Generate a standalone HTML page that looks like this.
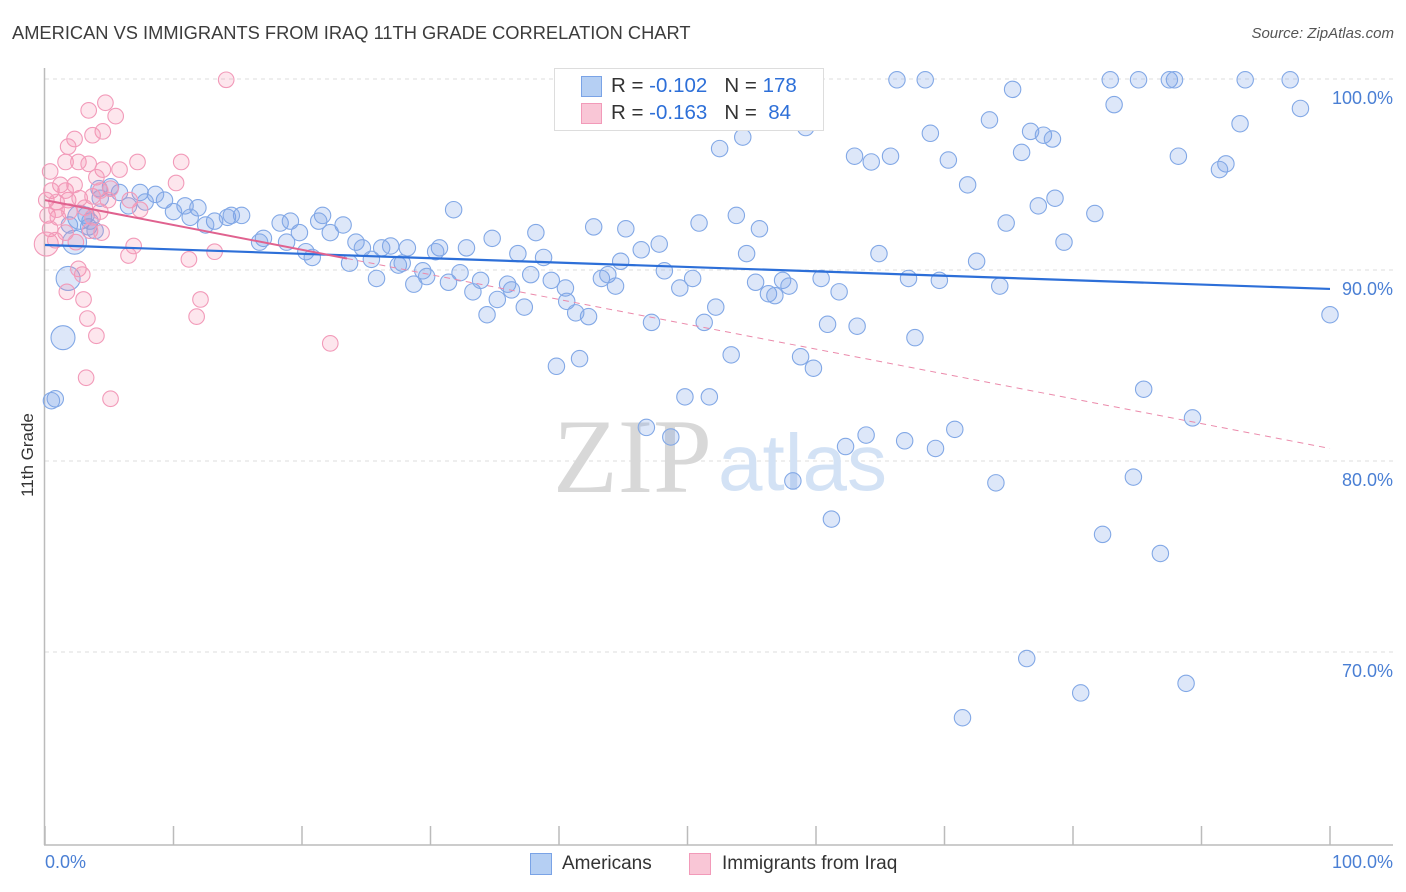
<!DOCTYPE html>
<html><head><meta charset="utf-8">
<style>
body{margin:0;background:#fff;font-family:"Liberation Sans",sans-serif;}
#wrap{position:relative;width:1406px;height:892px;overflow:hidden;}
.t{position:absolute;white-space:nowrap;}
</style></head>
<body>
<div id="wrap">
<div class="t" style="left:12px;top:22px;font-size:18.3px;color:#3c3c3c;">AMERICAN VS IMMIGRANTS FROM IRAQ 11TH GRADE CORRELATION CHART</div>
<div class="t" style="right:12px;top:25px;font-size:15px;color:#555;font-style:italic;">Source: ZipAtlas.com</div>
<svg id="svg" width="1406" height="892" style="position:absolute;left:0;top:0"></svg>
</div>
<script>
const blueX=[66.3,68.5,82.9,85.1,87.5,87.9,93.4,96.9,75.3,83.2,97.7,73.5,59.2,93.0,68.9,76.7,77.7,78.4,54.3,52.5,63.0,64.3,65.8,70.3,76.0,88.2,91.9,91.4,71.8,78.6,77.3,81.7,74.8,79.3,72.5,64.9,74.3,31.8,42.7,45.2,50.9,53.8,55.6,38.2,34.8,21.6,21.3,23.2,22.2,19.8,18.3,19.1,13.2,14.2,15.3,14.5,12.5,10.9,11.9,10.0,9.3,8.6,7.4,5.8,5.1,4.2,3.2,3.4,4.3,6.5,7.8,11.3,17.0,16.7,18.8,20.3,20.8,24.2,24.7,26.2,26.9,28.2,30.7,30.4,32.8,36.8,38.8,25.4,27.5,27.8,23.7,25.8,29.4,29.7,28.7,31.4,32.3,33.3,33.9,35.2,36.0,36.3,37.3,37.8,39.4,40.5,40.6,41.3,42.3,43.3,43.8,44.4,44.8,46.4,47.8,48.2,49.4,50.4,51.3,52.2,54.6,55.3,56.3,56.8,57.4,57.9,60.4,61.8,67.2,69.6,60.9,63.2,67.7,34.4,47.2,39.8,41.6,53.4,58.8,59.8,49.8,51.7,46.8,48.7,63.9,62.3,66.9,69.3,70.8,85.5,89.3,58.2,74.0,84.7,61.2,82.3,86.8,76.4,80.6,88.8,71.4,100.0,1.4,0.8,0.5,1.8,2.3,1.9,2.7,3.5,3.9];
const blueY=[100.9,100.9,100.9,100.9,100.9,100.9,100.9,100.9,100.4,99.6,99.4,98.8,98.4,98.6,98.1,98.2,98.0,97.8,97.9,97.3,96.9,96.6,96.9,96.7,97.1,96.9,96.5,96.2,95.4,94.7,94.3,93.9,93.4,92.4,91.4,91.8,90.1,94.1,93.2,93.1,93.4,93.8,93.1,92.9,92.6,93.8,93.5,93.3,92.9,92.9,93.4,93.5,93.5,93.7,93.8,93.8,93.3,94.3,94.2,94.0,94.6,94.9,95.0,95.0,95.3,95.2,93.8,93.2,94.7,94.3,94.5,93.7,92.6,92.4,92.4,91.9,91.6,92.4,92.1,92.1,92.2,92.1,92.1,91.9,92.1,91.8,91.6,91.5,91.2,91.3,91.3,90.5,90.9,90.6,90.2,90.3,90.8,89.8,90.4,89.4,90.2,89.9,89.0,90.7,90.4,90.0,89.3,88.7,88.5,90.5,90.7,90.1,91.4,92.0,92.3,90.9,90.0,90.5,88.2,89.0,91.8,90.3,89.7,89.6,90.4,90.1,90.5,89.8,90.5,90.4,88.1,88.0,87.4,88.6,88.2,85.9,86.3,86.5,86.4,85.8,84.3,84.3,82.7,82.2,82.3,81.7,82.0,81.6,82.6,84.7,83.2,79.9,79.8,80.1,77.9,77.1,76.1,70.6,68.8,69.3,67.5,88.6,87.4,84.2,84.1,90.5,92.4,93.3,93.7,93.5,93.0];
const blueBig=[162,165,166,168];
const pinkX=[14.1,4.7,3.4,5.5,4.5,3.7,2.3,1.8,1.6,2.6,3.4,4.5,4.0,5.8,7.2,10.6,10.2,0.4,1.2,0.5,0.1,0.9,1.8,2.7,3.7,5.1,6.6,7.4,0.2,1.0,0.4,1.6,3.7,2.4,3.5,4.4,6.9,6.5,11.2,13.2,2.6,2.9,1.7,3.0,12.1,11.8,3.3,4.0,22.2,3.2,5.1,0.1,0.9,1.9,3.1,4.3,4.9,1.6,2.3,0.8,4.3];
const pinkY=[100.9,99.7,99.3,99.0,98.2,98.0,97.8,97.4,96.6,96.6,96.5,96.2,95.8,96.2,96.6,96.6,95.5,96.1,95.4,95.1,94.6,94.5,94.6,94.7,94.8,95.2,94.6,94.1,93.8,93.7,93.1,92.9,93.7,92.4,93.0,92.9,92.2,91.7,91.5,91.9,91.0,90.7,89.8,89.4,89.4,88.5,88.4,87.5,87.1,85.3,84.2,92.3,94.1,94.0,94.2,94.0,94.6,95.1,95.4,92.5,95.1];
const pinkBig=[51];
const blueTrend=[92.25,89.95];
const pinkTrend=[94.6,81.6];
const yTicks=[100,90,80,70];
const yTickLabels=["100.0%","90.0%","80.0%","70.0%"];
const xTicks=[0,10,20,30,40,50,60,70,80,90,100];

const NS="http://www.w3.org/2000/svg";
const svg=document.getElementById('svg');
const X0=45,X1=1330,Y100=97,PPU=19.1;
function xs(v){return X0+(X1-X0)*v/100;}
function ys(v){return Y100+(100-v)*PPU;}
function el(t,a,p){const e=document.createElementNS(NS,t);for(const k in a)e.setAttribute(k,a[k]);(p||svg).appendChild(e);return e;}

yTicks.forEach((v,i)=>{
  const g=el('line',{x1:45,x2:1393,y1:ys(v)-18,y2:ys(v)-18,stroke:'#dcdcdc','stroke-dasharray':'4,4'});
  
  
  const t=el('text',{x:1393,y:ys(v)+7,'text-anchor':'end','font-size':18,fill:'#4a7fd4','font-family':'Liberation Sans, sans-serif'});
  t.textContent=yTickLabels[i];
  
  
});
let a=el('line',{x1:44.5,x2:44.5,y1:68,y2:845,stroke:'#bbb','stroke-width':1.5});

a=el('line',{x1:44,x2:1393,y1:845,y2:845,stroke:'#bbb','stroke-width':1.5});

xTicks.forEach(v=>{
  const t=el('line',{x1:xs(v),x2:xs(v),y1:826,y2:845,stroke:'#bbb','stroke-width':1.5});
  
  
});
const wm=el('text',{x:553,y:492,'font-size':106,fill:'#d8d8d8','font-family':'Liberation Serif, serif'});
wm.textContent='ZIP';

const wm2=el('text',{x:718,y:490,'font-size':80,fill:'#d3e2f5','font-family':'Liberation Sans, sans-serif'});
wm2.textContent='atlas';


blueX.forEach((v,i)=>{
  const c=el('circle',{cx:xs(v),cy:ys(blueY[i]),r:blueBig.includes(i)?12:8.2,fill:'rgba(120,160,230,0.25)',stroke:'#82a8e6','stroke-width':1.1});
  
  
});
pinkX.forEach((v,i)=>{
  const c=el('circle',{cx:xs(v),cy:ys(pinkY[i]),r:pinkBig.includes(i)?12:7.8,fill:'rgba(245,140,175,0.22)',stroke:'#f29ab9','stroke-width':1.1});
  
  
});
function ty(tr,x){return tr[0]+(tr[1]-tr[0])*x/100;}
let l=el('line',{x1:xs(0),y1:ys(blueTrend[0]),x2:xs(100),y2:ys(blueTrend[1]),stroke:'#2d6fd8','stroke-width':2.2});

l=el('line',{x1:xs(0),y1:ys(pinkTrend[0]),x2:xs(23.5),y2:ys(ty(pinkTrend,23.5)),stroke:'#e0628f','stroke-width':2});

l=el('line',{x1:xs(23.5),y1:ys(ty(pinkTrend,23.5)),x2:xs(100),y2:ys(pinkTrend[1]),stroke:'#eb8aab','stroke-width':1,'stroke-dasharray':'6,5'});

</script>
<div class="t" style="left:-22px;top:445px;width:100px;text-align:center;font-size:17px;color:#333;transform:rotate(-90deg);">11th Grade</div>
<div class="t" style="left:45px;top:852px;font-size:18px;color:#4a7fd4;">0.0%</div>
<div class="t" style="right:13px;top:852px;font-size:18px;color:#4a7fd4;">100.0%</div>
<div style="position:absolute;left:554px;top:68px;width:268px;height:61px;border:1px solid #ddd;background:#fff;font-size:20.5px;color:#333;">
 <div style="position:absolute;left:26px;top:7px;width:19px;height:19px;background:#b5cff3;border:1px solid #7aa3e6;"></div>
 <div class="t" style="left:56px;top:5px;">R = <span style="color:#2d6fd8">-0.102</span>&nbsp;&nbsp;&nbsp;N = <span style="color:#2d6fd8">178</span></div>
 <div style="position:absolute;left:26px;top:34px;width:19px;height:19px;background:#f9c6d6;border:1px solid #f29ab9;"></div>
 <div class="t" style="left:56px;top:32px;">R = <span style="color:#2d6fd8">-0.163</span>&nbsp;&nbsp;&nbsp;N = &nbsp;<span style="color:#2d6fd8">84</span></div>
</div>
<div style="position:absolute;left:530px;top:853px;font-size:19px;color:#333;">
 <div style="position:absolute;left:0;top:0;width:20px;height:20px;background:#b5cff3;border:1px solid #7aa3e6;"></div>
 <div class="t" style="left:32px;top:0px;">Americans</div>
</div>
<div style="position:absolute;left:689px;top:853px;font-size:19px;color:#333;">
 <div style="position:absolute;left:0;top:0;width:20px;height:20px;background:#f9c6d6;border:1px solid #f29ab9;"></div>
 <div class="t" style="left:33px;top:0px;">Immigrants from Iraq</div>
</div>
</body></html>
